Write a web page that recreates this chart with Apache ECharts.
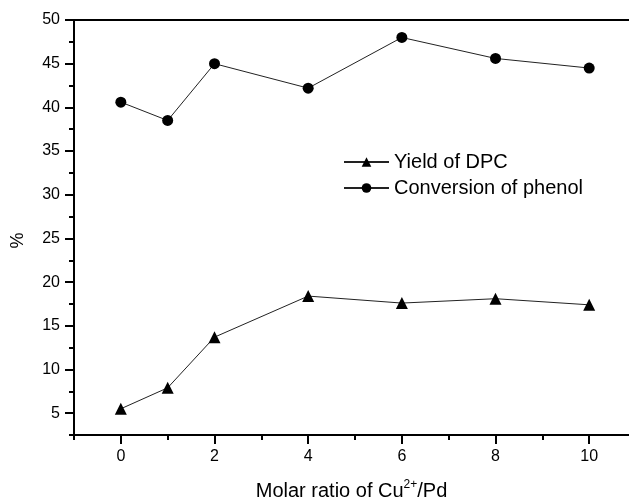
<!DOCTYPE html>
<html>
<head>
    <meta charset="utf-8"/>
    <style type="text/css">
        body, html {
            width: 100%;
            height: 100%;
            margin: 0;
            background: #fff;
        }
        #chart {
            width: 629px;
            height: 500px;
        }
    </style>
    <script src="https://cdn.jsdelivr.net/npm/echarts@6/dist/echarts.min.js"></script>
</head>
<body>
<div id="chart"></div>
<script type="text/javascript">
    // molar ratio Cu2+/Pd
    var ratios = [0, 1, 2, 4, 6, 8, 10];
    var yieldDPC = [5.5, 7.9, 13.7, 18.4, 17.6, 18.1, 17.4];
    var conversion = [40.6, 38.5, 45.0, 42.2, 48.0, 45.6, 44.5];

    var xMajor = [0, 2, 4, 6, 8, 10];
    var xMinor = [-1, 1, 3, 5, 7, 9];
    var yMajor = [5, 10, 15, 20, 25, 30, 35, 40, 45, 50];
    var yMinor = [2.5, 7.5, 12.5, 17.5, 22.5, 27.5, 32.5, 37.5, 42.5, 47.5];

    function pairs(ys) {
        var out = [];
        for (var i = 0; i < ratios.length; i++) {
            out.push([ratios[i], ys[i]]);
        }
        return out;
    }

    var font = 'Liberation Sans, Arial, sans-serif';
    var black = '#000';

    var myChart = echarts.init(document.getElementById('chart'));

    var option = {
        animation: false,
        backgroundColor: '#fff',
        grid: {left: 74, right: 0, top: 20, bottom: 65, outerBoundsMode: 'none'},
        legend: {
            data: ['Yield of DPC', 'Conversion of phenol'],
            orient: 'vertical',
            left: 338,
            top: 147,
            itemWidth: 45,
            itemHeight: 12,
            itemGap: 6,
            textStyle: {color: black, fontSize: 20, fontFamily: font}
        },
        xAxis: [
            {
                type: 'value', min: -1, max: 10.85,
                position: 'bottom',
                axisLine: {onZero: false, lineStyle: {color: black, width: 2}},
                axisTick: {customValues: xMajor, length: 9, lineStyle: {color: black, width: 2}},
                axisLabel: {customValues: xMajor, color: black, fontSize: 16, fontFamily: font, margin: 14},
                splitLine: {show: false},
                name: '{a|Molar ratio of Cu}{s|2+}{a|/Pd}',
                nameLocation: 'middle',
                nameGap: 44,
                nameTextStyle: {
                    rich: {
                        a: {fontSize: 20, color: black, fontFamily: font},
                        s: {fontSize: 12, color: black, fontFamily: font, verticalAlign: 'bottom', padding: [0, 0, 12, 0]}
                    }
                }
            },
            {
                type: 'value', min: -1, max: 10.85,
                position: 'bottom',
                axisLine: {show: false, onZero: false},
                axisTick: {customValues: xMinor, length: 5, lineStyle: {color: black, width: 2}},
                axisLabel: {show: false},
                splitLine: {show: false}
            },
            {
                type: 'value', min: -1, max: 10.85,
                position: 'top',
                axisLine: {onZero: false, lineStyle: {color: black, width: 2}},
                axisTick: {show: false},
                axisLabel: {show: false},
                splitLine: {show: false}
            }
        ],
        yAxis: [
            {
                type: 'value', min: 2.5, max: 50,
                position: 'left',
                axisLine: {show: true, onZero: false, lineStyle: {color: black, width: 2}},
                axisTick: {show: true, customValues: yMajor, length: 9, lineStyle: {color: black, width: 2}},
                axisLabel: {customValues: yMajor, color: black, fontSize: 16, fontFamily: font, margin: 14},
                splitLine: {show: false},
                name: '%',
                nameLocation: 'middle',
                nameGap: 47,
                nameRotate: 90,
                nameTextStyle: {color: black, fontSize: 18, fontFamily: font, padding: [0, 26, 0, 0]}
            },
            {
                type: 'value', min: 2.5, max: 50,
                position: 'left',
                axisLine: {show: false, onZero: false},
                axisTick: {show: true, customValues: yMinor, length: 5, lineStyle: {color: black, width: 2}},
                axisLabel: {show: false},
                splitLine: {show: false}
            }
        ],
        series: [
            {
                name: 'Yield of DPC',
                type: 'line',
                data: pairs(yieldDPC),
                symbol: 'triangle',
                symbolSize: 12,
                itemStyle: {color: black},
                lineStyle: {color: '#222', width: 1}
            },
            {
                name: 'Conversion of phenol',
                type: 'line',
                data: pairs(conversion),
                symbol: 'circle',
                symbolSize: 11,
                itemStyle: {color: black},
                lineStyle: {color: '#222', width: 1}
            }
        ]
    };
    myChart.setOption(option);
</script>
</body>
</html>
